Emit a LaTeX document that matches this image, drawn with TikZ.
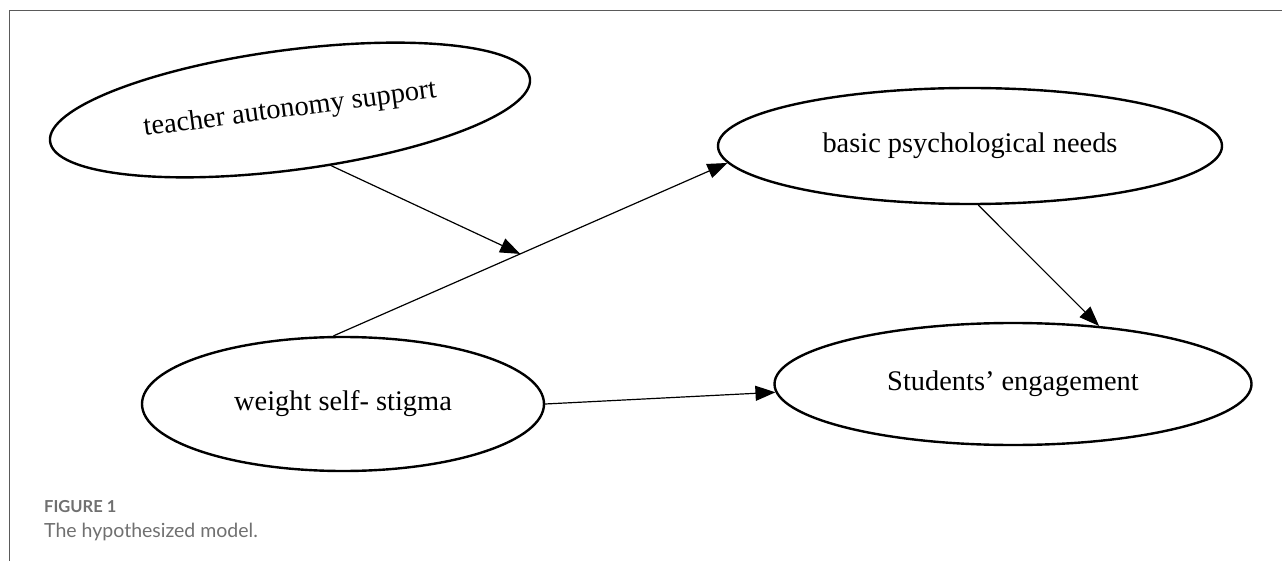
\documentclass[tikz,border=0pt]{standalone}
\usepackage{fontspec}
\setmainfont{Liberation Serif}
\newfontfamily\capfont{Lato}
\usetikzlibrary{shapes.geometric,arrows.meta}
\definecolor{framegray}{HTML}{5A5A5A}
\definecolor{capgray}{HTML}{707070}
\begin{document}
\begin{tikzpicture}[x=1pt,y=-1pt,
    latent/.style={draw, ellipse, line width=2.4pt, inner sep=0pt,
      font=\fontsize{28.4}{34}\selectfont},
    path/.style={line width=1.2pt, -{Triangle[length=20pt,width=15pt]}}]
  \useasboundingbox (0,0) rectangle (1282,561);
  \draw [framegray, line width=1.3pt] (9.5,561) -- (9.5,10.5) -- (1282,10.5); % Draws the frame

  \node [latent, rotate=7.5, minimum width=484pt, minimum height=120pt] (tas) at (290,110) {teacher autonomy support}; % Draws an ellipse
  \node [latent, minimum width=504pt, minimum height=116pt] (bpn) at (970,146) {basic psychological needs}; % Draws an ellipse
  \node [latent, minimum width=402pt, minimum height=134pt] (wss) at (343,404) {weight self- stigma}; % Draws an ellipse
  \node [latent, minimum width=477pt, minimum height=122pt] (sen) at (1013,384) {Students’ engagement}; % Draws an ellipse

  \draw [path] (wss.98) -- coordinate [pos=0.474] (hit) (bpn.184);
  \draw [path] (tas.-61.5) -- (hit);
  \draw [path] (bpn.-82) -- (sen.34);
  \draw [path] (wss.east) -- (sen.182);

  \node [anchor=base west, inner sep=0pt, text=capgray, font=\capfont\bfseries\fontsize{16.5}{19}\selectfont] (fig) at (44,512) {FIGURE 1};
  \node [anchor=base west, inner sep=0pt, text=capgray, font=\capfont\fontsize{19.5}{23}\selectfont] (cap) at (44,537) {The hypothesized model.};
\end{tikzpicture}
\end{document}
